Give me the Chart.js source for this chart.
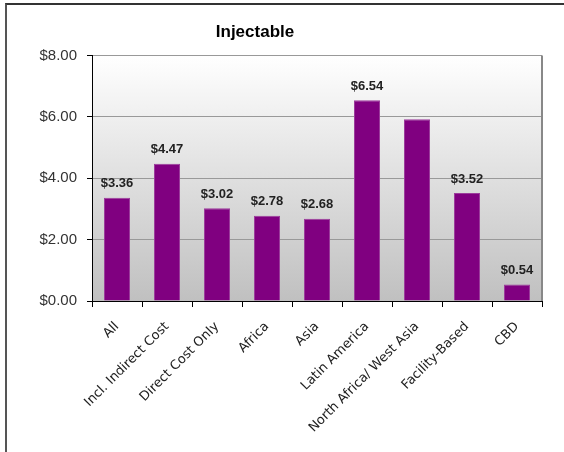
<!DOCTYPE html>
<html>
<head>
<meta charset="utf-8">
<script src="https://cdn.jsdelivr.net/npm/chart.js@4"></script>
<style>
    html, body { margin: 0; padding: 0; background: #fff; overflow: hidden; }
    #wrap { position: relative; width: 564px; height: 452px; overflow: hidden; }
    #costChart { position: absolute; left: -32px; top: 0; }
    #frame {
        position: absolute; left: 5px; top: 3px; width: 620px; height: 520px;
        border-left: 2px solid #555; border-top: 2px solid #333; pointer-events: none;
    }
</style>
</head>
<body>
<div id="wrap">
    <canvas id="costChart" width="596" height="452"></canvas>
    <div id="frame"></div>
</div>
<script>
const categories = ['All', 'Incl. Indirect Cost', 'Direct Cost Only', 'Africa', 'Asia',
    'Latin America', 'North Africa/ West Asia', 'Facility-Based', 'CBD'];
const costValues = [3.36, 4.47, 3.02, 2.78, 2.68, 6.54, 5.92, 3.52, 0.54];
const valueLabels = ['$3.36', '$4.47', '$3.02', '$2.78', '$2.68', '$6.54', null, '$3.52', '$0.54'];
const yTicks = [0, 2, 4, 6, 8];

// gray-to-white fill behind the bars plus the right edge of the plot
const plotBackground = {
    id: 'plotBackground',
    beforeDraw(chart) {
        const { ctx, chartArea: a } = chart;
        const g = ctx.createLinearGradient(0, a.top, 0, a.bottom);
        g.addColorStop(0, '#ffffff');
        g.addColorStop(1, '#c0c0c0');
        ctx.save();
        ctx.fillStyle = g;
        ctx.fillRect(a.left, a.top, a.right - a.left, a.bottom - a.top);
        ctx.restore();
    },
    afterDraw(chart) {
        const { ctx, chartArea: a } = chart;
        ctx.save();
        ctx.strokeStyle = '#888';
        ctx.lineWidth = 2;
        ctx.beginPath();
        ctx.moveTo(a.right, a.top);
        ctx.lineTo(a.right, a.bottom);
        ctx.stroke();
        ctx.restore();
    }
};

const barLabels = {
    id: 'barLabels',
    afterDatasetsDraw(chart) {
        const { ctx } = chart;
        const bars = chart.getDatasetMeta(0).data;
        ctx.save();
        ctx.font = 'bold 13px "Liberation Sans"';
        ctx.fillStyle = '#222';
        ctx.textAlign = 'center';
        ctx.textBaseline = 'middle';
        bars.forEach((bar, i) => {
            if (valueLabels[i]) ctx.fillText(valueLabels[i], bar.x, bar.y - 14);
        });
        ctx.restore();
    }
};

new Chart(document.getElementById('costChart'), {
    type: 'bar',
    data: {
        labels: categories,
        datasets: [{
            data: costValues,
            backgroundColor: '#800080',
            borderColor: '#9c3c9c',
            borderWidth: 1,
            barPercentage: 0.52,
            categoryPercentage: 1
        }]
    },
    options: {
        responsive: false,
        devicePixelRatio: 1,
        animation: false,
        layout: { padding: { left: 0, right: 22, top: 0, bottom: 0 } },
        plugins: {
            legend: { display: false },
            tooltip: { enabled: false },
            title: {
                display: true,
                text: 'Injectable',
                color: '#000',
                font: { family: '"Liberation Sans", Arial', size: 17, weight: 'bold' },
                padding: { top: 22, bottom: 13 }
            }
        },
        scales: {
            x: {
                offset: true,
                grid: { offset: true, drawOnChartArea: false, tickLength: 6, color: '#000', tickColor: '#000' },
                border: { color: '#000', width: 1 },
                ticks: {
                    color: '#222',
                    minRotation: 45, maxRotation: 45,
                    font: { family: '"DejaVu Sans"', size: 13 },
                    padding: 12
                },
                afterFit(scale) { scale.height = 151; }
            },
            y: {
                min: 0, max: 8,
                afterBuildTicks(scale) { scale.ticks = yTicks.map(v => ({ value: v })); },
                grid: { color: '#999', tickColor: '#000', tickLength: 5 },
                border: { color: '#000', width: 1 },
                ticks: {
                    color: '#333',
                    padding: 10,
                    font: { family: '"Liberation Sans", Arial', size: 15 },
                    callback: v => '$' + Number(v).toFixed(2)
                },
                afterFit(scale) { scale.width = 124; }
            }
        }
    },
    plugins: [plotBackground, barLabels]
});
</script>
</body>
</html>
